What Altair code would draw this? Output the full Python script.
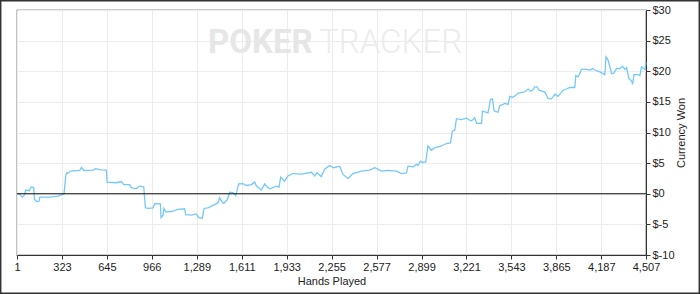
import altair as alt
import pandas as pd

hands = [1, 15, 40, 56, 63, 87, 104, 121, 126, 144, 159, 164, 235, 295, 326, 338,
         350, 357, 364, 386, 450, 463, 479, 546, 565, 601, 641, 646, 713, 749, 766,
         808, 820, 856, 880, 909, 921, 940, 975, 988, 1028, 1033, 1047, 1054, 1066,
         1107, 1154, 1202, 1210, 1250, 1286, 1303, 1329, 1341, 1369, 1405, 1441,
         1453, 1465, 1482, 1508, 1525, 1548, 1568, 1589, 1620, 1644, 1680, 1704,
         1716, 1752, 1775, 1792, 1811, 1859, 1878, 1890, 1918, 1942, 1978, 2038,
         2110, 2133, 2150, 2181, 2205, 2241, 2270, 2313, 2336, 2372, 2408, 2468,
         2528, 2564, 2612, 2659, 2719, 2755, 2791, 2802, 2838, 2862, 2874, 2891,
         2905, 2929, 2945, 2969, 2993, 3041, 3077, 3106, 3120, 3137, 3149, 3185,
         3221, 3244, 3257, 3280, 3293, 3329, 3336, 3364, 3375, 3393, 3407, 3419,
         3447, 3459, 3483, 3495, 3519, 3531, 3550, 3567, 3591, 3639, 3662, 3680,
         3694, 3710, 3727, 3741, 3782, 3806, 3830, 3854, 3877, 3895, 3913, 3937,
         3961, 3997, 4004, 4021, 4045, 4081, 4110, 4124, 4141, 4177, 4212, 4220,
         4234, 4244, 4261, 4277, 4297, 4320, 4340, 4356, 4368, 4385, 4404, 4411,
         4421, 4451, 4463, 4475, 4499, 4507]
won = [0.0, 0.0, -0.55, -0.1, 0.6, 0.5, 1.1, 1.0, -0.93, -1.3, -1.2, -0.55, -0.55,
       -0.4, -0.1, 0.0, 2.9, 3.4, 3.3, 3.7, 3.8, 4.3, 3.8, 3.85, 4.1, 3.9, 3.85,
       1.9, 1.8, 2.0, 1.5, 1.5, 1.0, 0.8, 1.25, 1.15, -2.3, -2.4, -2.3, -1.6,
       -1.65, -3.9, -3.5, -2.4, -2.95, -2.9, -2.55, -2.45, -3.4, -3.5, -3.3, -3.9,
       -4.0, -2.4, -2.3, -1.9, -1.5, -0.65, -1.15, -1.6, -0.93, 0.25, 0.2, -0.3,
       1.6, 1.65, 1.35, 1.5, 1.9, 1.25, 0.6, 1.6, 1.15, 0.8, 1.25, 1.1, 2.7, 2.05,
       2.9, 3.3, 3.2, 3.5, 2.9, 3.45, 2.8, 4.0, 4.6, 4.25, 4.5, 3.15, 2.5, 3.3,
       3.7, 3.85, 4.25, 3.7, 3.8, 3.7, 3.3, 3.4, 4.5, 4.4, 4.8, 4.6, 5.3, 5.1,
       5.2, 7.8, 7.1, 7.5, 7.8, 8.2, 8.3, 10.2, 10.4, 12.25, 12.1, 12.35, 12.0,
       11.9, 12.4, 11.5, 11.5, 13.5, 13.3, 13.2, 15.4, 15.5, 13.5, 13.3, 14.4,
       14.6, 14.75, 14.6, 15.9, 15.75, 15.95, 16.4, 16.65, 17.1, 16.75, 16.9,
       17.45, 17.45, 16.9, 16.6, 15.55, 15.5, 16.25, 15.9, 16.4, 16.9, 17.1,
       17.35, 17.35, 19.3, 19.1, 20.3, 20.3, 20.2, 20.45, 20.2, 19.9, 19.45,
       22.35, 21.9, 21.1, 19.6, 19.7, 20.45, 20.45, 20.8, 20.3, 20.6, 18.8, 18.4,
       17.85, 19.45, 19.45, 19.3, 20.7, 20.3, 21.45]

x_ticks = [1, 323, 645, 966, 1289, 1611, 1933, 2255, 2577, 2899, 3221, 3543,
           3865, 4187, 4507]
y_ticks = [-10, -5, 0, 5, 10, 15, 20, 25, 30]
zero_level = [0]

df = pd.DataFrame({"hands": hands, "won": won})
zdf = pd.DataFrame({"won": zero_level})

W, H = 629, 245
FONT = "Liberation Sans"

x_axis = alt.Axis(values=x_ticks, format=",.0f", title="Hands Played",
                  labelFont=FONT, labelFontSize=11, labelColor="#222",
                  titleFont=FONT, titleFontSize=11, titleFontWeight="normal",
                  titleColor="#222", titlePadding=3, tickSize=4,
                  labelPadding=2, tickColor="#333", domainColor="#333",
                  gridColor="#ececec", labelFlush=False)
y_axis = alt.Axis(orient="right", values=y_ticks,
                  labelExpr="'$' + datum.value", title="Currency Won",
                  titleAngle=270, labelFont=FONT, labelFontSize=11,
                  labelColor="#222", titleFont=FONT, titleFontSize=11,
                  titleFontWeight="normal", titleColor="#222",
                  titlePadding=12, tickSize=4, labelPadding=2,
                  tickColor="#333", domainColor="#333",
                  gridColor="#ececec")
x_scale = alt.Scale(domain=[1, 4507], nice=False, zero=False)
y_scale = alt.Scale(domain=[-10, 30], nice=False)

line = alt.Chart(df).mark_line(color="#74c8fb", strokeWidth=1.3, interpolate="linear").encode(
    x=alt.X("hands:Q", scale=x_scale, axis=x_axis),
    y=alt.Y("won:Q", scale=y_scale, axis=y_axis))

zero = alt.Chart(zdf).mark_rule(color="#111", strokeWidth=1.2).encode(
    y=alt.Y("won:Q", scale=y_scale, axis=y_axis))

wm1 = alt.Chart(pd.DataFrame({"t": ["POKER"]})).mark_text(
    font="Roboto", fontSize=33, fontWeight="bold", color="#e6e6e6",
    align="left", baseline="alphabetic").encode(
    text="t:N", x=alt.value(191), y=alt.value(43))
wm2 = alt.Chart(pd.DataFrame({"t": ["TRACKER"]})).mark_text(
    font="Roboto", fontSize=33, fontWeight=300, color="#ececec",
    align="left", baseline="alphabetic").encode(
    text="t:N", x=alt.value(302), y=alt.value(43))

frame = alt.Chart(pd.DataFrame({"a": [0]})).mark_rect(
    fill=None, stroke="#333", strokeWidth=1.5, clip=False).encode(
    x=alt.value(-16.3), x2=alt.value(W + 53.3), y=alt.value(-9.3), y2=alt.value(H + 38.3))

chart = alt.layer(wm1, wm2, line, zero, frame).properties(
    width=W, height=H,
    autosize=alt.AutoSizeParams(type="none"),
    padding={"left": 17, "top": 10, "right": 54, "bottom": 39},
    background="white",
).configure_view(stroke="#333", strokeWidth=1.2)

chart.save("out.html", embed_options={"renderer": "svg", "actions": False})
